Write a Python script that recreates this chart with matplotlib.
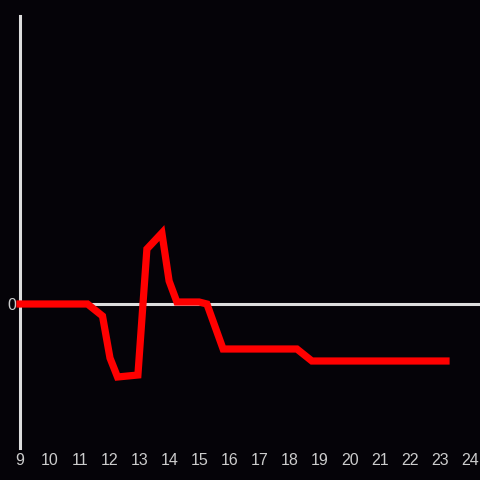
import matplotlib
matplotlib.use("Agg")
import matplotlib.pyplot as plt

hours = [9.0, 11.25, 11.75, 12.0, 12.25, 12.93, 13.23, 13.73, 13.97, 14.23, 14.97, 15.23, 15.77, 18.23, 18.73, 23.2]
values = [0.0, 0.0, -1.2, -5.4, -7.3, -7.1, 5.5, 7.1, 2.3, 0.2, 0.2, 0.0, -4.5, -4.5, -5.7, -5.7]
xticks = list(range(9, 25))

bg = "#050308"
fig = plt.figure(figsize=(4.8, 4.8), dpi=100, facecolor=bg)
ax = fig.add_axes([20/480, 32/480, 460/480, 432/480], facecolor=bg)

ax.axhline(0, color="#dddddd", lw=2.2, zorder=1)
ax.plot(hours, values, color="#ff0000", lw=5.2, solid_joinstyle="miter",
        solid_capstyle="projecting", clip_on=False, zorder=3)

ax.set_xlim(9, 9 + 460/30)
ax.set_ylim(-14.4, 28.8)
ax.set_xticks(xticks)
ax.set_xticklabels([str(t) for t in xticks])
ax.set_yticks([0])
ax.set_yticklabels(["0"])
for s in ["top", "right", "bottom"]:
    ax.spines[s].set_visible(False)
ax.spines["left"].set_color("#dddddd")
ax.spines["left"].set_linewidth(2.2)
ax.tick_params(axis="both", length=0, colors="#cccccc", labelsize=11.5)
ax.tick_params(axis="x", pad=3.5)
ax.tick_params(axis="y", pad=3)
for lbl in ax.get_xticklabels() + ax.get_yticklabels():
    lbl.set_fontfamily("Liberation Sans")

fig.savefig("out.png", dpi=100, facecolor=bg)
